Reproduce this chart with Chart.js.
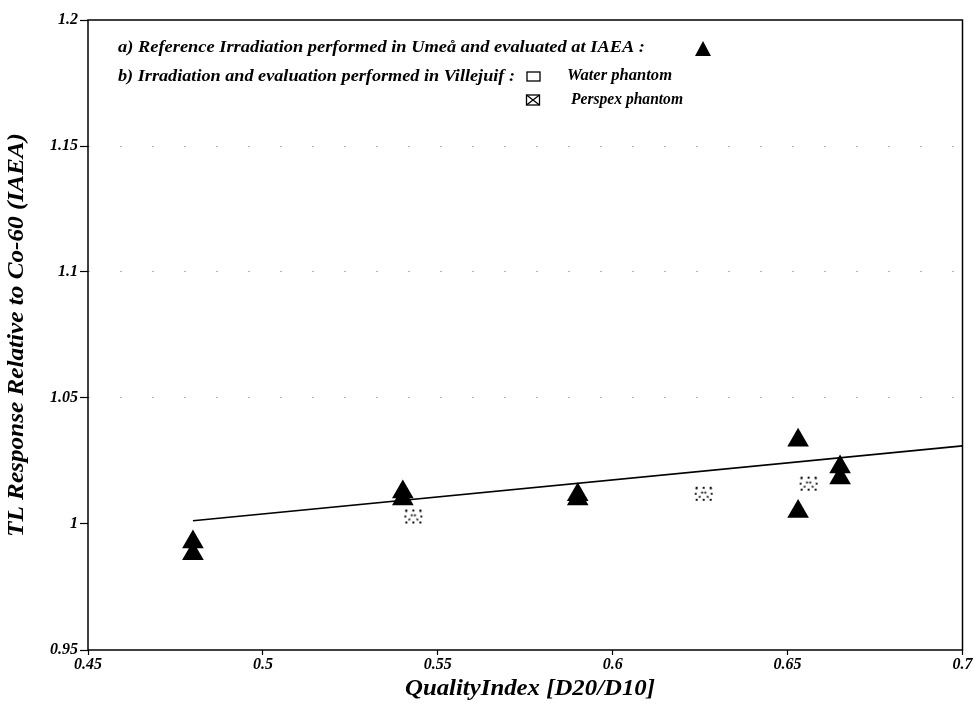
<!DOCTYPE html>
<html>
<head>
<meta charset="utf-8">
<script src="https://cdn.jsdelivr.net/npm/chart.js@4"></script>
<style>
  html, body { margin: 0; padding: 0; background: #fff; }
  #wrap { width: 975px; height: 710px; }
</style>
</head>
<body>
<div id="wrap"><canvas id="chart" width="975" height="710"></canvas></div>
<script>
// Axis ticks
const xTicks = [0.45, 0.5, 0.55, 0.6, 0.65, 0.7];
const yTicks = [0.95, 1, 1.05, 1.1, 1.15, 1.2];
const gridValues = [1.05, 1.1, 1.15];

// a) Umeå irradiation, evaluated at IAEA (filled triangles)
const iaeaX = [0.48, 0.48, 0.54, 0.54, 0.59, 0.59, 0.653, 0.653, 0.665, 0.665];
const iaeaY = [0.9929, 0.9882, 1.0127, 1.0099, 1.0116, 1.0099, 1.0332, 1.0050, 1.0226, 1.0183];

// b) Villejuif, Perspex phantom (crossed boxes)
const perspexX = [0.543, 0.626, 0.656];
const perspexY = [1.003, 1.012, 1.016];

// b) Villejuif, water phantom (open boxes) - none legible in the plot
const waterX = [];
const waterY = [];

// linear fit
const fitX = [0.48, 0.70];
const fitY = [1.0013, 1.031];

const SERIF = '"Liberation Serif", "DejaVu Serif", serif';
const pts = (xs, ys) => xs.map((x, i) => ({ x, y: ys[i] }));

// squeeze/stretch text to a target width (scanned font is condensed)
function fitText(ctx, text, x, y, width, size, align) {
    ctx.font = `italic bold ${size}px ${SERIF}`;
    const w = ctx.measureText(text).width;
    ctx.save();
    ctx.translate(x, y);
    ctx.scale(width / w, 1);
    ctx.textAlign = align || "left";
    ctx.textBaseline = "middle";
    ctx.fillStyle = "#000";
    ctx.fillText(text, 0, 0);
    ctx.restore();
}

function crossedBox(ctx, cx, cy, w, h) {
    ctx.strokeRect(cx - w / 2, cy - h / 2, w, h);
    ctx.beginPath();
    ctx.moveTo(cx - w / 2, cy - h / 2); ctx.lineTo(cx + w / 2, cy + h / 2);
    ctx.moveTo(cx + w / 2, cy - h / 2); ctx.lineTo(cx - w / 2, cy + h / 2);
    ctx.stroke();
}

// faint dotted crossed box used as the Perspex point style
const perspexIcon = document.createElement("canvas");
perspexIcon.width = 20; perspexIcon.height = 16;
(() => {
    const c = perspexIcon.getContext("2d");
    c.strokeStyle = "#111";
    c.lineWidth = 1.8;
    c.setLineDash([2, 5]);
    crossedBox(c, 10, 8, 16, 12);
})();

const frameAndText = {
    id: "frameAndText",
    afterDraw(chart) {
        const { ctx, chartArea: a } = chart;
        ctx.save();
        ctx.strokeStyle = "#000";
        ctx.lineWidth = 1.5;
        ctx.strokeRect(a.left, a.top, a.right - a.left, a.bottom - a.top);

        // axis titles
        fitText(ctx, "QualityIndex [D20/D10]", 530, 689, 250, 23, "center");
        ctx.save();
        ctx.translate(17, (a.top + a.bottom) / 2);
        ctx.rotate(-Math.PI / 2);
        fitText(ctx, "TL Response Relative to Co-60 (IAEA)", 0, 0, 404, 23, "center");
        ctx.restore();

        // legend
        fitText(ctx, "a) Reference Irradiation performed in Umeå and evaluated at IAEA :", 118, 48, 527, 17);
        fitText(ctx, "b) Irradiation and evaluation performed in Villejuif :", 118, 77, 397, 17);
        fitText(ctx, "Water phantom", 567, 76, 105, 16);
        fitText(ctx, "Perspex phantom", 571, 100, 112, 16);

        ctx.fillStyle = "#000";
        ctx.beginPath();
        ctx.moveTo(703, 41); ctx.lineTo(711, 56); ctx.lineTo(695, 56);
        ctx.closePath(); ctx.fill();

        ctx.lineWidth = 1.3;
        ctx.strokeRect(527, 72, 13, 9);
        crossedBox(ctx, 533, 100, 13, 10);
        ctx.restore();
    }
};

new Chart(document.getElementById("chart"), {
    type: "scatter",
    data: {
        datasets: [
            {
                type: "line",
                data: pts(fitX, fitY),
                borderColor: "#000",
                borderWidth: 1.7,
                pointRadius: 0,
                order: 3,
            },
            {
                data: pts(perspexX, perspexY),
                pointStyle: perspexIcon,
                order: 2,
            },
            {
                data: pts(waterX, waterY),
                pointStyle: "rect",
                pointRadius: 6,
                backgroundColor: "#fff",
                borderColor: "#000",
                order: 2,
            },
            {
                data: pts(iaeaX, iaeaY),
                pointStyle: "triangle",
                pointRadius: 12.5,
                backgroundColor: "#000",
                borderColor: "#000",
                borderWidth: 0,
                order: 1,
            },
        ]
    },
    options: {
        responsive: false,
        animation: false,
        events: [],
        layout: { padding: { top: 20, right: 12, left: 0, bottom: 0 } },
        plugins: { legend: { display: false }, tooltip: { enabled: false } },
        scales: {
            x: {
                type: "linear",
                min: xTicks[0], max: xTicks[xTicks.length - 1],
                afterBuildTicks: s => { s.ticks = xTicks.map(v => ({ value: v })); },
                afterFit: s => { s.height = 60; },
                grid: { drawOnChartArea: false, tickLength: 5, tickColor: "#000", tickWidth: 1.2 },
                border: { display: false },
                ticks: {
                    padding: 0,
                    color: "#000",
                    maxRotation: 0,
                    font: { family: SERIF, size: 16, weight: "bold", style: "italic" },
                    callback: v => String(Number(v.toFixed(2))),
                },
            },
            y: {
                type: "linear",
                min: yTicks[0], max: yTicks[yTicks.length - 1],
                afterBuildTicks: s => { s.ticks = yTicks.map(v => ({ value: v })); },
                afterFit: s => { s.width = 88; },
                grid: {
                    color: c => gridValues.some(g => Math.abs(g - c.tick.value) < 1e-6) ? "rgba(0,0,0,0.3)" : "rgba(0,0,0,0)",
                    tickColor: "#000",
                    tickWidth: 1.2,
                    tickLength: 8,
                    lineWidth: 1,
                },
                border: { display: false, dash: [2, 30] },
                ticks: {
                    padding: 2,
                    color: "#000",
                    font: { family: SERIF, size: 16, weight: "bold", style: "italic" },
                    callback: v => String(Number(v.toFixed(2))),
                },
            },
        },
    },
    plugins: [frameAndText],
});
</script>
</body>
</html>
